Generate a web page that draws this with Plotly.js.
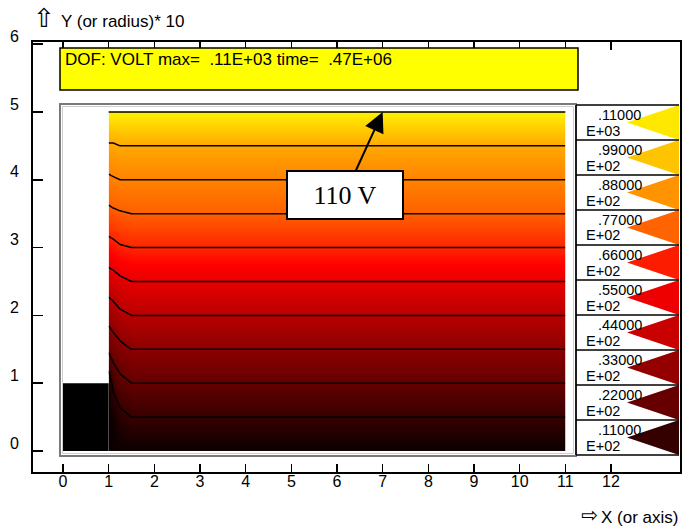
<!DOCTYPE html>
<html>
<head>
<meta charset="utf-8">
<script src="https://cdn.plot.ly/plotly-3.0.1.min.js"></script>
<style>html,body{margin:0;padding:0;background:#fff;}#chart{width:694px;height:528px;}</style>
</head>
<body>
<div id="chart"></div>
<script>
// ---------------- data ----------------
const gridX = [1.0, 1.1, 1.25, 1.5, 11.0];
const gridY = [0, 0.5, 1.0, 1.5, 2.0, 2.5, 3.0, 3.5, 4.0, 4.5, 5.0];
// potential (V) along each column of gridX, bottom to top
const voltAtX1_00 = [0, 0, 4, 24, 37, 50, 62, 74, 86, 98, 110];
const voltAtX1_10 = [0, 2, 14, 27, 39, 51, 63, 75, 87, 98, 110];
const voltAtX1_25 = [0, 8, 19, 30, 42, 53, 65, 76, 88, 99, 110];
const voltAtX1_50 = [0, 11, 22, 33, 44, 55, 66, 77, 88, 99, 110];
const voltAtX11_0 = [0, 11, 22, 33, 44, 55, 66, 77, 88, 99, 110];

// the 110 V contour lying on the top boundary
const topContourX = [1.0, 11.0];
const topContourY = [5.0, 5.0];

// grounded electrode block (black)
const electrodeX = [0, 1, 1, 0, 0];
const electrodeY = [0, 0, 1, 1, 0];

// contour levels
const levelStart = 11, levelEnd = 110, levelStep = 11;

// legend entries (top to bottom)
const legendMantissa = ['.11000', '.99000', '.88000', '.77000', '.66000', '.55000', '.44000', '.33000', '.22000', '.11000'];
const legendExponent = ['E+03', 'E+02', 'E+02', 'E+02', 'E+02', 'E+02', 'E+02', 'E+02', 'E+02', 'E+02'];
const legendColors = ['rgb(255,232,0)', 'rgb(255,196,0)', 'rgb(255,148,0)', 'rgb(255,100,0)', 'rgb(252,28,0)',
                      'rgb(238,0,0)', 'rgb(200,0,0)', 'rgb(148,0,0)', 'rgb(102,0,0)', 'rgb(52,0,0)'];

// colour ramp
const rampStops = [0, 0.1, 0.2, 0.3, 0.4, 0.5, 0.55, 0.6, 0.7, 0.8, 0.9, 1.0];
const rampColors = ['rgb(10,0,0)', 'rgb(55,0,0)', 'rgb(100,0,0)', 'rgb(140,0,0)', 'rgb(185,0,0)', 'rgb(230,0,0)',
                    'rgb(255,0,0)', 'rgb(255,35,0)', 'rgb(255,95,0)', 'rgb(255,130,0)', 'rgb(255,168,0)', 'rgb(255,240,0)'];

const xTicks = [0, 1, 2, 3, 4, 5, 6, 7, 8, 9, 10, 11, 12];
const yTicks = [0, 1, 2, 3, 4, 5, 6];

const headerText = 'DOF: VOLT max=\u00a0\u00a0.11E+03 time=\u00a0\u00a0.47E+06';
const yTitleText = 'Y (or radius)*\u00a010';
const xTitleText = 'X (or axis)';
const calloutText = '110 V';
const calloutX = 7.0, calloutY = 5.0;

// ---------------- build ----------------
const columns = [voltAtX1_00, voltAtX1_10, voltAtX1_25, voltAtX1_50, voltAtX11_0];
const z = gridY.map((_, j) => columns.map(col => col[j]));
const colorscale = rampStops.map((s, i) => [s, rampColors[i]]);

const W = 694, H = 528, ML = 33, MT = 42, MR = 14, MB = 56;
const PW = W - ML - MR, PH = H - MT - MB;
const px = v => (v - ML) / PW;          // pixel x -> paper
const py = v => 1 - (v - MT) / PH;      // pixel y -> paper

const SANS = '"Liberation Sans", Arial, sans-serif';

const traces = [
  {
    type: 'contour', x: gridX, y: gridY, z: z,
    zmin: 0, zmax: 110, colorscale: colorscale, showscale: false,
    contours: {coloring: 'heatmap', start: levelStart, end: levelEnd, size: levelStep, showlines: true},
    line: {color: 'black', width: 1.5, smoothing: 0},
    hoverinfo: 'skip'
  },
  {
    type: 'scatter', mode: 'lines', x: topContourX, y: topContourY,
    line: {color: 'black', width: 1.5}, hoverinfo: 'skip', showlegend: false
  },
  {
    type: 'scatter', mode: 'lines', x: electrodeX, y: electrodeY,
    fill: 'toself', fillcolor: 'black', line: {width: 0, color: 'black'},
    hoverinfo: 'skip', showlegend: false
  }
];

const shapes = [];
const annotations = [];

// inner frame (grey double line)
shapes.push({type: 'rect', xref: 'paper', yref: 'paper', x0: px(60), x1: px(576), y0: py(456), y1: py(104),
             line: {color: '#7a7a7a', width: 2}, layer: 'above'});
shapes.push({type: 'rect', xref: 'paper', yref: 'paper', x0: px(62.5), x1: px(573.5), y0: py(453.5), y1: py(106.5),
             line: {color: '#cfcfcf', width: 1}, layer: 'above'});

// yellow header box
shapes.push({type: 'rect', xref: 'paper', yref: 'paper', x0: px(60), x1: px(578), y0: py(90), y1: py(48),
             fillcolor: 'rgb(255,255,0)', line: {color: 'black', width: 1.5}, layer: 'above'});
annotations.push({xref: 'paper', yref: 'paper', x: px(63), y: py(60), xanchor: 'left', yanchor: 'middle',
                  text: headerText, showarrow: false, font: {family: SANS, size: 17, color: 'black'}});

// legend
const LX0 = 576, LX1 = 679, LY0 = 105, ROW = 35, APEX = 627;
shapes.push({type: 'line', xref: 'paper', yref: 'paper', x0: px(LX0), x1: px(LX0),
             y0: py(LY0), y1: py(LY0 + ROW * legendMantissa.length), line: {color: 'black', width: 1.5}, layer: 'above'});
legendMantissa.forEach((m, i) => {
  const top = LY0 + ROW * i, bot = top + ROW, mid = (top + bot) / 2;
  shapes.push({type: 'path', xref: 'paper', yref: 'paper',
               path: `M ${px(LX1)},${py(top)} L ${px(LX1)},${py(bot)} L ${px(APEX)},${py(mid)} Z`,
               fillcolor: legendColors[i], line: {width: 0}, layer: 'above'});
  shapes.push({type: 'line', xref: 'paper', yref: 'paper', x0: px(LX0), x1: px(LX1), y0: py(top), y1: py(top),
               line: {color: 'black', width: 1.5}, layer: 'above'});
  annotations.push({xref: 'paper', yref: 'paper', x: px(597), y: py(top + 1), xanchor: 'left', yanchor: 'top',
                    text: m, showarrow: false, borderpad: 0, font: {family: SANS, size: 14.5, color: 'black'}});
  annotations.push({xref: 'paper', yref: 'paper', x: px(585), y: py(bot - 0.5), xanchor: 'left', yanchor: 'bottom',
                    text: legendExponent[i], showarrow: false, borderpad: 0, font: {family: SANS, size: 14.5, color: 'black'}});
});
shapes.push({type: 'line', xref: 'paper', yref: 'paper', x0: px(LX0), x1: px(LX1),
             y0: py(LY0 + ROW * legendMantissa.length), y1: py(LY0 + ROW * legendMantissa.length),
             line: {color: 'black', width: 1.5}, layer: 'above'});

// axis titles
annotations.push({xref: 'paper', yref: 'paper', x: px(44), y: py(18), xanchor: 'center', yanchor: 'middle',
                  text: '\u21e7', showarrow: false, font: {family: 'DejaVu Sans', size: 26, color: 'black'}});
annotations.push({xref: 'paper', yref: 'paper', x: px(59), y: py(21), xanchor: 'left', yanchor: 'middle',
                  text: yTitleText, showarrow: false, font: {family: SANS, size: 17, color: 'black'}});
annotations.push({xref: 'paper', yref: 'paper', x: px(589), y: py(515), xanchor: 'center', yanchor: 'middle',
                  text: '\u21e8', showarrow: false, borderpad: 0, font: {family: 'DejaVu Sans', size: 20, color: 'black'}});
annotations.push({xref: 'paper', yref: 'paper', x: px(600), y: py(517), xanchor: 'left', yanchor: 'middle',
                  text: xTitleText, showarrow: false, borderpad: 0, font: {family: SANS, size: 17, color: 'black'}});

// callout
annotations.push({xref: 'x', yref: 'y', x: calloutX, y: calloutY, ax: -38, ay: 83, axref: 'pixel', ayref: 'pixel',
                  text: calloutText, showarrow: true, arrowhead: 2, arrowsize: 2, arrowwidth: 2, arrowcolor: 'black',
                  bgcolor: 'white', bordercolor: 'black', borderwidth: 2, borderpad: 0, width: 114, height: 46,
                  font: {family: '"Liberation Serif", "Times New Roman", serif', size: 26, color: 'black'}});

const layout = {
  width: W, height: H,
  margin: {l: ML, r: MR, t: MT, b: MB, pad: 0},
  paper_bgcolor: 'white', plot_bgcolor: 'white',
  showlegend: false,
  xaxis: {
    range: [-0.657, 13.511], tickvals: xTicks, ticktext: xTicks.map(String),
    showgrid: false, zeroline: false, showline: true, linecolor: 'black', linewidth: 2, mirror: 'ticks',
    ticks: 'inside', ticklen: 8, tickwidth: 1.5, tickcolor: 'black',
    tickfont: {family: SANS, size: 16, color: 'black'}, ticklabelstandoff: -6
  },
  yaxis: {
    range: [-0.310, 6.032], tickvals: yTicks, ticktext: yTicks.map(String),
    showgrid: false, zeroline: false, showline: true, linecolor: 'black', linewidth: 2, mirror: true,
    ticks: 'inside', ticklen: 10, tickwidth: 1.5, tickcolor: 'black',
    tickfont: {family: SANS, size: 16, color: 'black'}, ticklabelstandoff: 9, ticklabelshift: -8
  },
  shapes: shapes,
  annotations: annotations
};

Plotly.newPlot('chart', traces, layout, {displayModeBar: false, staticPlot: true});
</script>
</body>
</html>
